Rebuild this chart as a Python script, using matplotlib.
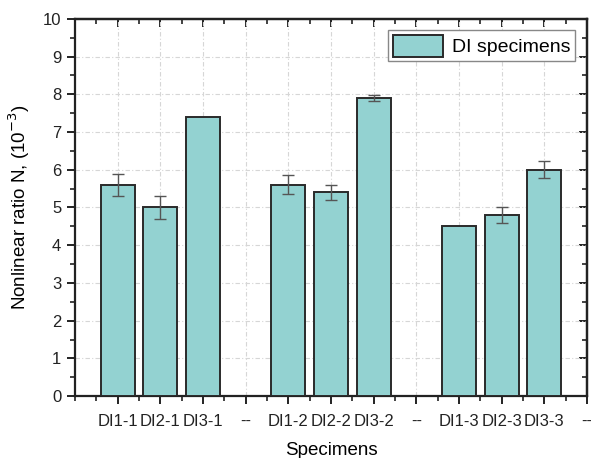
import matplotlib
matplotlib.use("Agg")
import matplotlib.pyplot as plt
from matplotlib.ticker import MultipleLocator

# Data
labels = ["DI1-1", "DI2-1", "DI3-1", "--",
          "DI1-2", "DI2-2", "DI3-2", "--",
          "DI1-3", "DI2-3", "DI3-3", "--"]
bar_labels = ["DI1-1", "DI2-1", "DI3-1",
              "DI1-2", "DI2-2", "DI3-2",
              "DI1-3", "DI2-3", "DI3-3"]
values = [5.6, 5.0, 7.4, 5.6, 5.4, 7.9, 4.5, 4.8, 6.0]
errors = [0.3, 0.3, 0.0, 0.25, 0.2, 0.08, 0.0, 0.2, 0.22]

plt.rcParams["font.family"] = ["Liberation Sans", "DejaVu Sans"]

FILL = "#93d2d1"
EDGE = "#2a2a2a"
INK = "#222222"

fig = plt.figure(figsize=(5.91, 4.58), dpi=100)
ax = fig.add_axes([0.127, 0.135, 0.866, 0.824])

pos = [labels.index(l) + 1 for l in bar_labels]
ax.bar(pos, values, width=0.8, color=FILL, edgecolor=EDGE, linewidth=1.4,
       label="DI specimens", zorder=3)
for x, v, e in zip(pos, values, errors):
    if e > 0:
        ax.errorbar(x, v, yerr=e, color="#555555", capsize=4, elinewidth=1.0,
                    capthick=1.0, zorder=4)

ax.set_xlim(0, 12)
ax.set_ylim(0, 10)
ax.set_xticks(range(1, 13))
ax.set_xticklabels(labels)
ax.xaxis.set_minor_locator(MultipleLocator(0.5))
ax.yaxis.set_major_locator(MultipleLocator(1))
ax.yaxis.set_minor_locator(MultipleLocator(0.5))

ax.grid(True, which="major", color="#d6d6d6", linestyle=(0, (4, 2, 1, 2)),
        linewidth=0.8, zorder=0)
ax.set_axisbelow(True)

for s in ax.spines.values():
    s.set_linewidth(1.6)
    s.set_color(INK)

ax.tick_params(axis="both", which="major", length=6, width=1.4, labelsize=12,
               colors=INK, direction="out", pad=4)
ax.tick_params(axis="x", which="major", pad=7)
ax.tick_params(axis="both", which="minor", length=3.5, width=1.2,
               colors=INK, direction="out")

# mirrored ticks on top and right, pointing inward
top = ax.secondary_xaxis("top")
top.set_xticks(range(1, 13))
top.xaxis.set_minor_locator(MultipleLocator(0.5))
top.tick_params(which="major", direction="in", length=6, width=1.4, labeltop=False, colors=INK)
top.tick_params(which="minor", direction="in", length=3.5, width=1.2, colors=INK)
top.spines["top"].set_linewidth(1.6)

right = ax.secondary_yaxis("right")
right.yaxis.set_major_locator(MultipleLocator(1))
right.yaxis.set_minor_locator(MultipleLocator(0.5))
right.tick_params(which="major", direction="in", length=6, width=1.4, labelright=False, colors=INK)
right.tick_params(which="minor", direction="in", length=3.5, width=1.2, colors=INK)
right.spines["right"].set_linewidth(1.6)

ax.set_xlabel("Specimens", fontsize=13.5, labelpad=9)
ax.set_ylabel("Nonlinear ratio N, (10$^{-3}$)", fontsize=13.5, labelpad=8)

leg = ax.legend(loc="upper right", fontsize=14, fancybox=False, framealpha=1,
                edgecolor="#888888", handlelength=2.6, handleheight=1.3,
                borderpad=0.25, handletextpad=0.45, borderaxespad=0.6)
leg.get_frame().set_linewidth(1.0)

fig.savefig("out.png", dpi=100)
